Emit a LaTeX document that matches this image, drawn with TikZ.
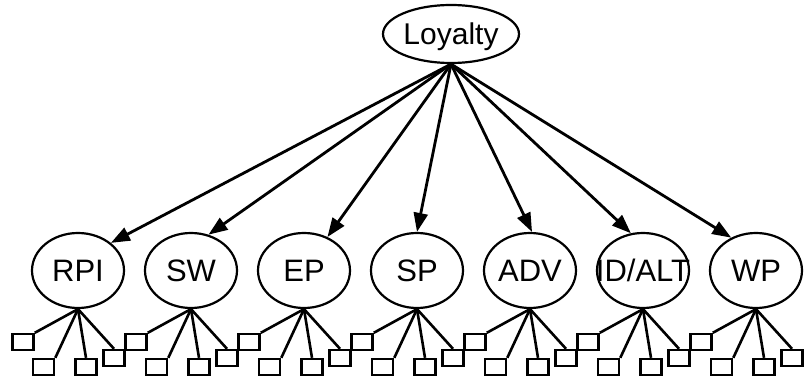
\documentclass[tikz,border=0pt]{standalone}
\usepackage{fontspec}
\setmainfont{Liberation Sans}
\usepackage{tikz}
\usetikzlibrary{shapes.geometric,arrows.meta}

\begin{document}
\begin{tikzpicture}[x=1pt,y=-1pt,
  latent/.style={draw,ellipse,line width=2.2pt,minimum width=92pt,minimum height=75pt,inner sep=0pt,
    text height=22pt,text depth=0pt,font=\fontsize{31}{35}\selectfont},
  factor/.style={latent,minimum width=136pt,minimum height=58pt,font=\fontsize{30}{34}\selectfont},
  ind/.style={draw,line width=2.6pt,minimum width=21pt,minimum height=16pt,inner sep=0pt},
  loading/.style={line width=2.8pt,-{Triangle[length=19pt,width=14pt]}},
  link/.style={line width=2.6pt}]
 \useasboundingbox (0,0) rectangle (809,377);
 \node[factor] (Loy) at (451,34) {Loyalty};
 \node[latent] (RPI) at (78,270.5) {RPI};
 \node[latent] (SW) at (191,270.5) {SW};
 \node[latent] (EP) at (304,270.5) {EP};
 \node[latent] (SP) at (417,270.5) {SP};
 \node[latent] (ADV) at (530,270.5) {ADV};
 \node[latent] (IDALT) at (643,270.5) {\makebox[0pt]{ID/ALT}};
 \node[latent] (WP) at (756,270.5) {WP};
 \draw[loading] (Loy.south) -- (RPI.40);
 \draw[loading] (Loy.south) -- (SW.64);
 \draw[loading] (Loy.south) -- (EP.55);
 \draw[loading] (Loy.south) -- (SP.90);
 \draw[loading] (Loy.south) -- (ADV.87);
 \draw[loading] (Loy.south) -- (IDALT.108);
 \draw[loading] (Loy.south) -- (WP.127);
 % four indicators under each factor
 \foreach \f in {RPI,SW,EP,SP,ADV,IDALT,WP}{
   \node[ind] (\f1) at ([shift={(-55,33)}]\f.south) {};
   \node[ind] (\f2) at ([shift={(-34.5,58)}]\f.south) {};
   \node[ind] (\f3) at ([shift={(8,58)}]\f.south) {};
   \node[ind] (\f4) at ([shift={(36,49)}]\f.south) {};
   \draw[link] (\f.south) -- (\f1.north east);
   \draw[link] (\f.south) -- (\f2.north east);
   \draw[link] (\f.south) -- (\f3.north);
   \draw[link] (\f.south) -- (\f4.north);
 }
\end{tikzpicture}
\end{document}
